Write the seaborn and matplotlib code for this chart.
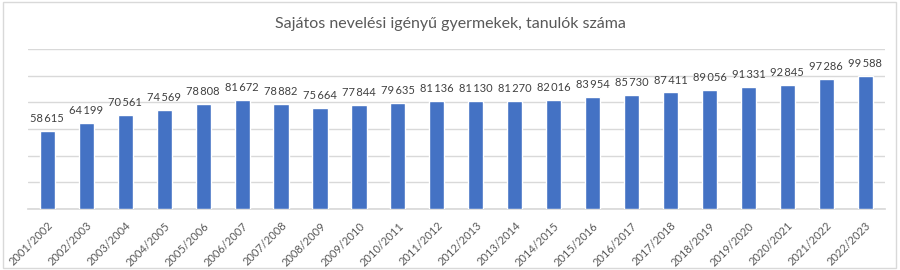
import matplotlib
matplotlib.use("Agg")
import matplotlib.pyplot as plt
import seaborn as sns
import pandas as pd
from matplotlib.patches import Rectangle

years = ["2001/2002", "2002/2003", "2003/2004", "2004/2005", "2005/2006", "2006/2007",
         "2007/2008", "2008/2009", "2009/2010", "2010/2011", "2011/2012", "2012/2013",
         "2013/2014", "2014/2015", "2015/2016", "2016/2017", "2017/2018", "2018/2019",
         "2019/2020", "2020/2021", "2021/2022", "2022/2023"]
values = [58615, 64199, 70561, 74569, 78808, 81672, 78882, 75664, 77844, 79635, 81136,
          81130, 81270, 82016, 83954, 85730, 87411, 89056, 91331, 92845, 97286, 99588]
title = "Sajátos nevelési igényű gyermekek, tanulók száma"

sns.set_theme(style="white")
plt.rcParams['font.family'] = ['Lato', 'DejaVu Sans']

df = pd.DataFrame({"year": years, "value": values})

fig = plt.figure(figsize=(9, 2.7), dpi=100)
ax = fig.add_axes([0.031, 0.226, 0.952, 0.5925])
sns.barplot(data=df, x="year", y="value", color="#4472C4", saturation=1,
            width=0.39, ax=ax, zorder=3)

ax.set_ylim(0, 120000)
ax.set_yticks(range(0, 120001, 20000))
ax.yaxis.grid(True, color="#D9D9D9", linewidth=1, zorder=0)
ax.set_axisbelow(True)
ax.tick_params(axis="y", left=False, labelleft=False)
ax.tick_params(axis="x", bottom=False, pad=2, labelsize=8, labelcolor="#595959")
for s in ["top", "right", "left"]:
    ax.spines[s].set_visible(False)
ax.spines["bottom"].set_color("#D9D9D9")
ax.set_xlabel("")
ax.set_ylabel("")
ax.set_xlim(-0.5, len(years) - 0.5)
for lab in ax.get_xticklabels():
    lab.set_rotation(45)
    lab.set_ha("right")
    lab.set_rotation_mode("anchor")

for i, v in enumerate(values):
    ax.annotate(f"{v:,}".replace(",", "\u2009"), (i, v), xytext=(0, 5),
                textcoords="offset points", ha="center", va="bottom",
                fontsize=8, color="#404040")

fig.text(0.5, 0.91, title, ha="center", va="center", fontsize=11.5, color="#595959")
fig.patches.append(Rectangle((0.003, 0.006), 0.992, 0.985, transform=fig.transFigure,
                             fill=False, edgecolor="#D9D9D9", linewidth=1))
fig.savefig("out.png", dpi=100, facecolor="white")
